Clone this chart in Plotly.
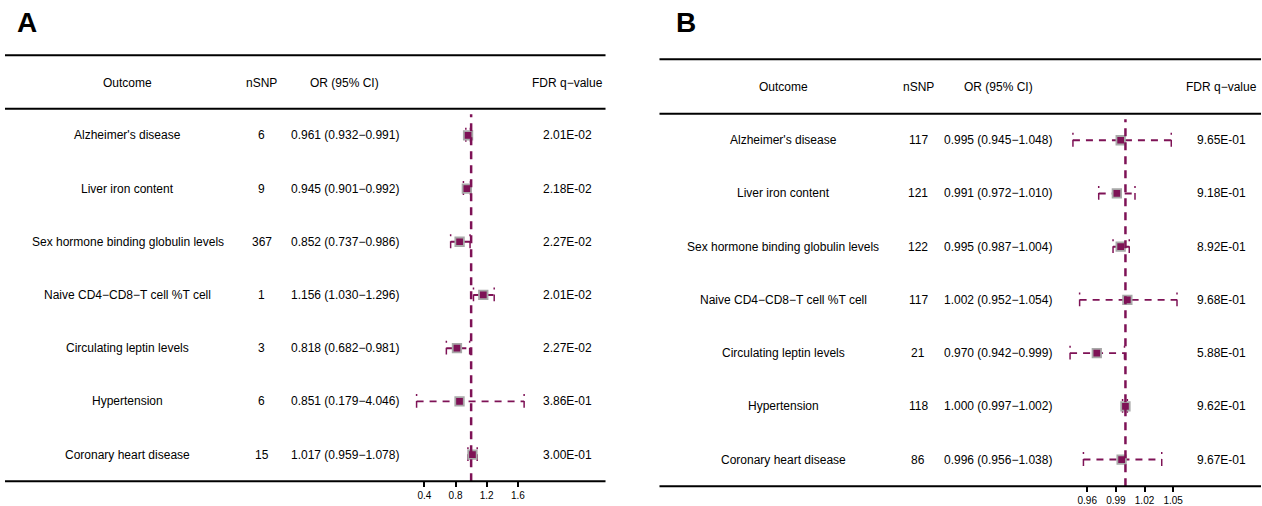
import plotly.graph_objects as go

# ---------------- data ----------------
outcomes = ["Alzheimer's disease", "Liver iron content", "Sex hormone binding globulin levels",
            "Naive CD4\u2212CD8\u2212T cell %T cell", "Circulating leptin levels",
            "Hypertension", "Coronary heart disease"]

a_nsnp = [6, 9, 367, 1, 3, 6, 15]
a_or = [0.961, 0.945, 0.852, 1.156, 0.818, 0.851, 1.017]
a_lo = [0.932, 0.901, 0.737, 1.030, 0.682, 0.179, 0.959]
a_hi = [0.991, 0.992, 0.986, 1.296, 0.981, 4.046, 1.078]
a_fdr = ["2.01E-02", "2.18E-02", "2.27E-02", "2.01E-02", "2.27E-02", "3.86E-01", "3.00E-01"]
a_ticks = [0.4, 0.8, 1.2, 1.6]

b_nsnp = [117, 121, 122, 117, 21, 118, 86]
b_or = [0.995, 0.991, 0.995, 1.002, 0.970, 1.000, 0.996]
b_lo = [0.945, 0.972, 0.987, 0.952, 0.942, 0.997, 0.956]
b_hi = [1.048, 1.010, 1.004, 1.054, 0.999, 1.002, 1.038]
b_fdr = ["9.65E-01", "9.18E-01", "8.92E-01", "9.68E-01", "5.88E-01", "9.62E-01", "9.67E-01"]
b_ticks = [0.96, 0.99, 1.02, 1.05]

headers = ["Outcome", "nSNP", "OR (95% CI)", "FDR q\u2212value"]
panel_labels = ["A", "B"]
REF_OR = 1.0

# ---------------- style ----------------
W, H = 1262, 506
PURPLE = "#7E1256"
GRAY = "#A8A8A8"
FONT = "Liberation Sans, Arial, sans-serif"
FS = 12

def px(x):
    return x / W

def py(y):
    return 1 - y / H

panels = [
    dict(label_x=27, label_y=23, left=5, right=606, top=56, head_y=84, head_bot=110,
         bot=487, cols=[128, 262, 345, 568], forest=(412, 530), xrange=[0.237, 1.750],
         clip=(0.30, 1.68), nsnp=a_nsnp, orv=a_or, lo=a_lo, hi=a_hi, fdr=a_fdr,
         ticks=a_ticks, tickfmt="{:.1f}", xa="x", ya="y"),
    dict(label_x=687, label_y=23, left=660, right=1262, top=60, head_y=88, head_bot=115,
         bot=492, cols=[784, 919, 999, 1222], forest=(1067, 1183), xrange=[0.9379, 1.0593],
         clip=(0.9379, 1.0593), nsnp=b_nsnp, orv=b_or, lo=b_lo, hi=b_hi, fdr=b_fdr,
         ticks=b_ticks, tickfmt="{:.2f}", xa="x2", ya="y2"),
]

fig = go.Figure()
shapes = []
annotations = []
layout_axes = {}

n = len(outcomes)
rows = list(range(n))

for k, p in enumerate(panels):
    # CI lines (clipped to axis limits)
    xs, ys, cx, cy = [], [], [], []
    for i in rows:
        lo = max(p["lo"][i], p["clip"][0])
        hi = min(p["hi"][i], p["clip"][1])
        xs += [lo, hi, None]
        ys += [i, i, None]
        for e in (lo, hi):
            cx += [e, e, None]
            cy += [i - 0.14, i + 0.12, None]
    fig.add_trace(go.Scatter(x=xs, y=ys, mode="lines", xaxis=p["xa"], yaxis=p["ya"],
                             line=dict(color=PURPLE, width=1.9, dash="7px,6px"),
                             hoverinfo="skip", showlegend=False))
    fig.add_trace(go.Scatter(x=cx, y=cy, mode="lines", xaxis=p["xa"], yaxis=p["ya"],
                             line=dict(color=PURPLE, width=1.5, dash="2px,5px,8px"),
                             hoverinfo="skip", showlegend=False))
    fig.add_trace(go.Scatter(x=p["orv"], y=rows, mode="markers", xaxis=p["xa"], yaxis=p["ya"],
                             marker=dict(symbol="square", size=8.5, color=PURPLE,
                                         line=dict(color=GRAY, width=1.8)),
                             showlegend=False))

    # axes
    sfx = "" if k == 0 else "2"
    layout_axes["xaxis" + sfx] = dict(
        domain=[px(p["forest"][0]), px(p["forest"][1])], range=p["xrange"],
        anchor="y" + sfx, showgrid=False, zeroline=False, showline=False,
        tickvals=p["ticks"], ticktext=[p["tickfmt"].format(t) for t in p["ticks"]],
        ticks="outside", ticklen=5, tickwidth=1.5, tickcolor="black",
        tickfont=dict(family=FONT, size=10, color="black"), fixedrange=True)
    layout_axes["yaxis" + sfx] = dict(
        domain=[py(p["bot"]), py(p["head_bot"])], range=[n - 0.5, -0.5],
        anchor="x" + sfx, visible=False, showgrid=False, zeroline=False, fixedrange=True)

    # reference line
    shapes.append(dict(type="line", xref=p["xa"], yref=p["ya"] + " domain",
                       x0=REF_OR, x1=REF_OR, y0=0, y1=0.985, layer="above",
                       line=dict(color=PURPLE, width=2.5, dash="8px,6px")))

    # rules
    for yy in (p["top"], p["head_bot"], p["bot"]):
        shapes.append(dict(type="line", xref="paper", yref="paper",
                           x0=px(p["left"]), x1=px(p["right"]), y0=py(yy), y1=py(yy),
                           line=dict(color="black", width=2)))

    # panel label
    annotations.append(dict(text="<b>" + panel_labels[k] + "</b>", xref="paper", yref="paper",
                            x=px(p["label_x"]), y=py(p["label_y"]), showarrow=False,
                            xanchor="center", yanchor="middle",
                            font=dict(family=FONT, size=28, color="black")))
    # headers
    for j, h in enumerate(headers):
        annotations.append(dict(text=h, xref="paper", yref="paper", x=px(p["cols"][j]),
                                y=py(p["head_y"]), showarrow=False, xanchor="center",
                                yanchor="middle",
                                font=dict(family=FONT, size=FS, color="black")))
    # cells
    for i in rows:
        cells = [outcomes[i], str(p["nsnp"][i]),
                 "{:.3f} ({:.3f}\u2212{:.3f})".format(p["orv"][i], p["lo"][i], p["hi"][i]),
                 p["fdr"][i]]
        for j, c in enumerate(cells):
            annotations.append(dict(text=c, xref="paper", yref=p["ya"], x=px(p["cols"][j]),
                                    y=i, showarrow=False, xanchor="center", yanchor="middle",
                                    font=dict(family=FONT, size=FS, color="black")))

fig.update_layout(width=W, height=H, margin=dict(l=0, r=0, t=0, b=0),
                  paper_bgcolor="white", plot_bgcolor="white",
                  shapes=shapes, annotations=annotations, showlegend=False,
                  **layout_axes)

fig.write_html("out.html", config={"displayModeBar": False},
               post_script="document.body.style.margin='0';document.body.style.padding='0';"
                           "document.body.style.overflow='hidden';")
